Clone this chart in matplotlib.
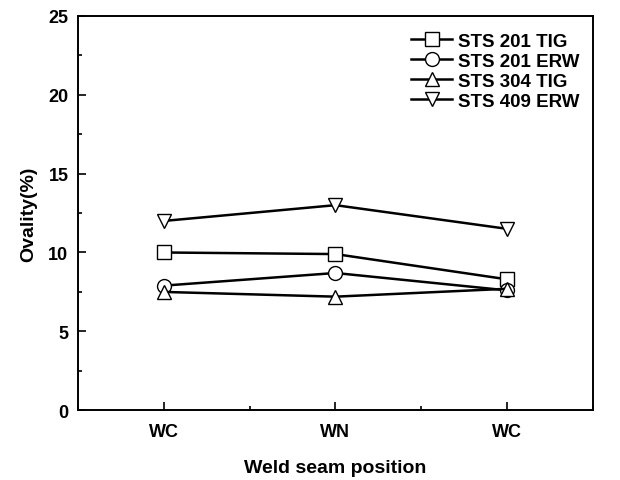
import matplotlib
matplotlib.use("Agg")
import matplotlib.pyplot as plt
from matplotlib.ticker import MultipleLocator

plt.rcParams['font.family'] = ['Liberation Sans', 'DejaVu Sans']
plt.rcParams['font.weight'] = 'bold'

positions = ["WC", "WN", "WC"]
x = [1, 2, 3]
series_names = ["STS 201 TIG", "STS 201 ERW", "STS 304 TIG", "STS 409 ERW"]
sts201_tig = [10.0, 9.9, 8.3]
sts201_erw = [7.9, 8.7, 7.6]
sts304_tig = [7.5, 7.2, 7.7]
sts409_erw = [12.0, 13.0, 11.5]
markers = ["s", "o", "^", "v"]

fig = plt.figure(figsize=(6.2, 4.81), dpi=100)
ax = fig.add_axes([0.126, 0.145, 0.830, 0.820])

for vals, name, m in zip([sts201_tig, sts201_erw, sts304_tig, sts409_erw], series_names, markers):
    ax.plot(x, vals, color='black', lw=1.8, marker=m, markersize=10,
            markerfacecolor='white', markeredgecolor='black', markeredgewidth=1.0, label=name)

ax.set_xlim(0.5, 3.5)
ax.set_ylim(0, 25)
ax.set_xticks(x)
ax.set_xticklabels(positions)
ax.xaxis.set_minor_locator(MultipleLocator(0.5))
ax.yaxis.set_major_locator(MultipleLocator(5))
ax.yaxis.set_minor_locator(MultipleLocator(2.5))
ax.tick_params(which='both', direction='in', width=1.2, labelsize=13)
ax.tick_params(which='major', length=6)
ax.tick_params(which='minor', length=3)
ax.tick_params(axis='x', pad=9)
ax.tick_params(axis='y', pad=7)
for s in ax.spines.values():
    s.set_linewidth(1.4)

ax.set_xlabel("Weld seam position", fontsize=14, fontweight='bold', labelpad=14)
ax.set_ylabel("Ovality(%)", fontsize=14, fontweight='bold', labelpad=8)

leg = ax.legend(loc='upper right', frameon=False, fontsize=13.5, handlelength=2.2,
                handletextpad=0.3, labelspacing=0.15, borderaxespad=0.3,
                bbox_to_anchor=(1.0, 0.99))
for t in leg.get_texts():
    t.set_fontweight('bold')

fig.savefig("out.png", dpi=100)
